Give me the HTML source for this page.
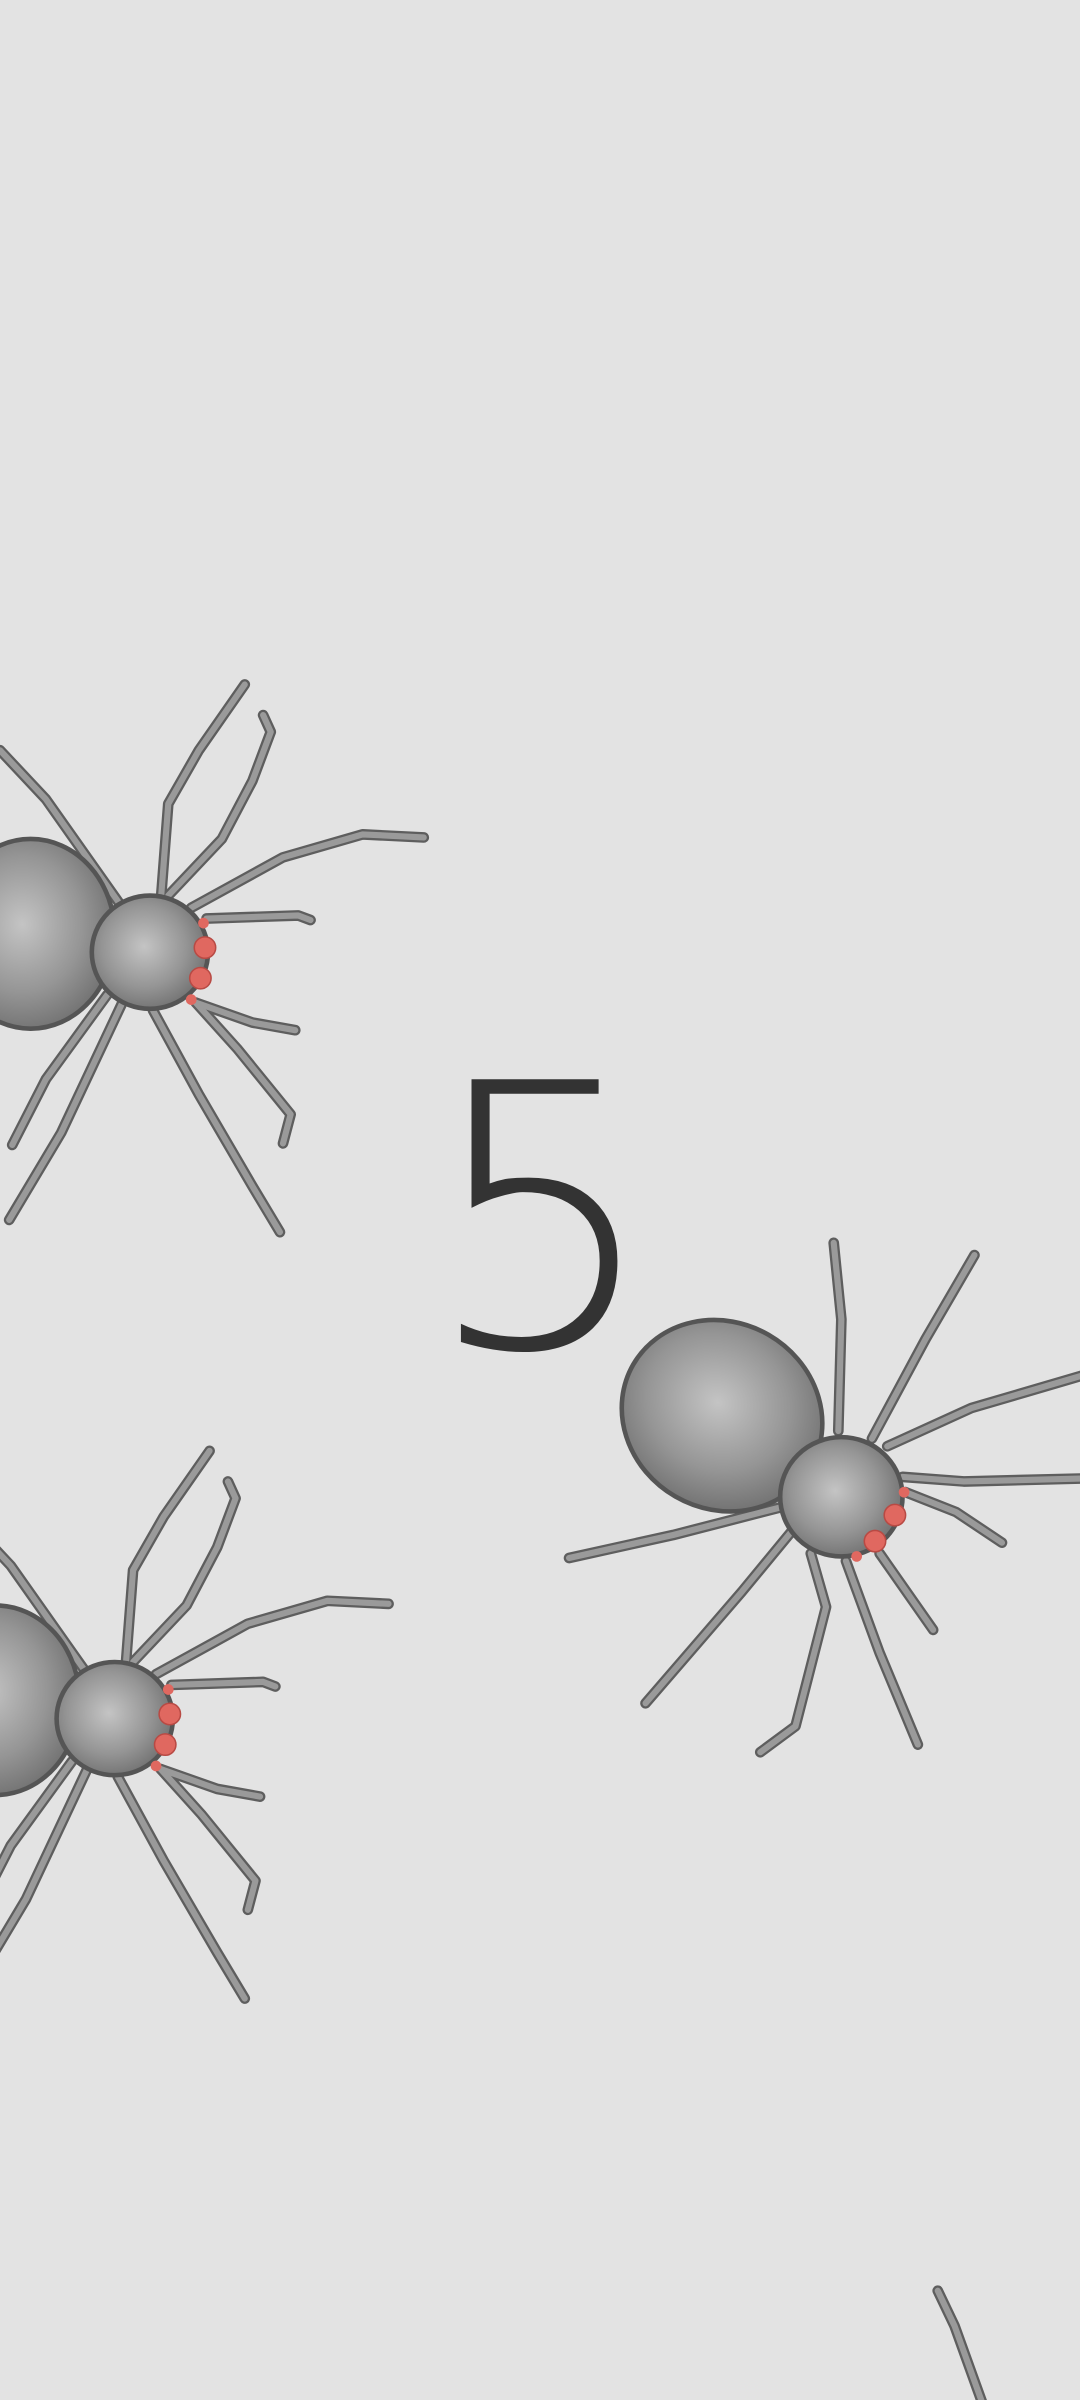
<!DOCTYPE html>
<html><head><meta charset="utf-8">
<style>
html,body{margin:0;padding:0;background:#e3e3e3;}
svg{display:block;}
</style></head>
<body>
<svg width="1080" height="2400" viewBox="0 0 706 1568" xmlns="http://www.w3.org/2000/svg">
<defs>
  <radialGradient id="bodyGrad" cx="0.45" cy="0.45" r="0.6">
    <stop offset="0" stop-color="#c4c4c4"/>
    <stop offset="0.6" stop-color="#959595"/>
    <stop offset="1" stop-color="#6e6e6e"/>
  </radialGradient>
  <g id="legs1">
    <polyline points="7,-32 12,-97 32,-132 62,-175"/>
    <polyline points="12,-37 47,-74 67,-112 79,-144 74,-155"/>
    <polyline points="27,-29 87,-62 139,-77 179,-75"/>
    <polyline points="37,-22 97,-24 105,-21"/>
    <polyline points="-20,-32 -68,-100 -98,-132"/>
    <polyline points="30,33 57,63 92,106 87,125"/>
    <polyline points="2,38 32,93 67,153 85,183"/>
    <polyline points="-18,33 -58,118 -92,175"/>
    <polyline points="-28,28 -68,83 -90,126"/>
    <polyline points="30,33 67,46 95,51"/>
  </g>
  <g id="spider">
    <g fill="none" stroke-linecap="round" stroke-linejoin="round">
      <use href="#legs1" stroke="#5e5e5e" stroke-width="7"/>
      <use href="#legs1" stroke="#9a9a9a" stroke-width="4"/>
    </g>
    <ellipse cx="-78" cy="-12" rx="55" ry="62" fill="url(#bodyGrad)" stroke="#555" stroke-width="3"/>
    <ellipse cx="0" cy="0" rx="38" ry="37" fill="url(#bodyGrad)" stroke="#555" stroke-width="3"/>
    <circle cx="36" cy="-3" r="7" fill="#e06860" stroke="#b84a44" stroke-width="1"/>
    <circle cx="33" cy="17" r="7" fill="#e06860" stroke="#b84a44" stroke-width="1"/>
    <circle cx="35" cy="-19" r="3.5" fill="#e06860"/>
    <circle cx="27" cy="31" r="3.5" fill="#e06860"/>
  </g>
  <g id="legs3">
    <polyline points="548,935 550,862 545,812"/>
    <polyline points="570,940 605,875 637,820"/>
    <polyline points="580,945 635,920 710,898"/>
    <polyline points="590,965 630,968 710,966"/>
    <polyline points="592,975 625,988 655,1008"/>
    <polyline points="575,1015 610,1065"/>
    <polyline points="553,1020 575,1080 600,1140"/>
    <polyline points="530,1015 540,1050 520,1128 497,1145"/>
    <polyline points="518,1000 485,1040 422,1113"/>
    <polyline points="510,985 440,1003 372,1018"/>
  </g>
</defs>
<rect x="0" y="0" width="706" height="1568" fill="#e3e3e3"/>
<use href="#spider" transform="translate(98,622)"/>
<use href="#spider" transform="translate(75,1123)"/>
<g>
  <g fill="none" stroke-linecap="round" stroke-linejoin="round">
    <use href="#legs3" stroke="#5e5e5e" stroke-width="7"/>
    <use href="#legs3" stroke="#9a9a9a" stroke-width="4"/>
  </g>
  <ellipse cx="472" cy="925" rx="67" ry="61" transform="rotate(30 472 925)" fill="url(#bodyGrad)" stroke="#555" stroke-width="3"/>
  <ellipse cx="550" cy="978" rx="40" ry="39" fill="url(#bodyGrad)" stroke="#555" stroke-width="3"/>
  <circle cx="585" cy="990" r="7" fill="#e06860" stroke="#b84a44" stroke-width="1"/>
  <circle cx="572" cy="1007" r="7" fill="#e06860" stroke="#b84a44" stroke-width="1"/>
  <circle cx="591" cy="975" r="3.5" fill="#e06860"/>
  <circle cx="560" cy="1017" r="3.5" fill="#e06860"/>
</g>
<g fill="none" stroke-linecap="round">
  <polyline points="613,1497 624,1520 642,1570" stroke="#5e5e5e" stroke-width="7"/>
  <polyline points="613,1497 624,1520 642,1570" stroke="#9a9a9a" stroke-width="4"/>
</g>
<text x="354" y="880" text-anchor="middle" font-family="'DejaVu Sans ExtraLight', 'DejaVu Sans', sans-serif" font-size="240" font-weight="200" fill="#333">5</text>
</svg>
</body></html>
